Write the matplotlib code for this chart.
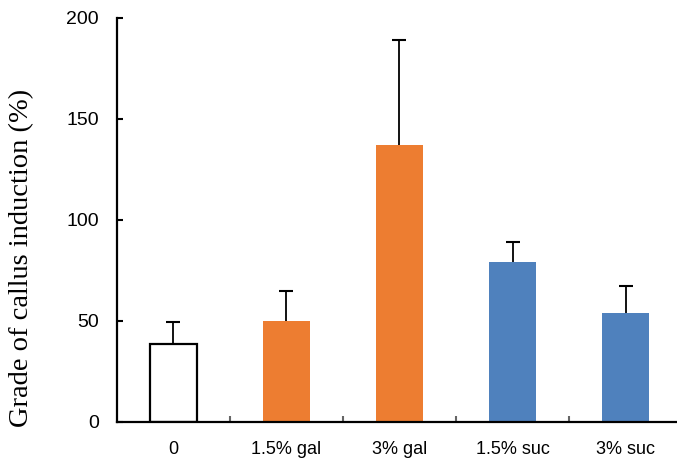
import matplotlib
matplotlib.use("Agg")
import matplotlib.pyplot as plt

categories = ["0", "1.5% gal", "3% gal", "1.5% suc", "3% suc"]
values = [38.5, 50, 137, 79, 54]
errors = [11, 15, 52, 10, 13]
colors = ["white", "#ED7D31", "#ED7D31", "#4F81BD", "#4F81BD"]
edgecolors = ["black", "#ED7D31", "#ED7D31", "#4F81BD", "#4F81BD"]
yticks = [0, 50, 100, 150, 200]

fig = plt.figure(figsize=(6.77, 4.63), dpi=100)
ax = fig.add_axes([0.1728, 0.0886, 0.8346, 0.8736])

x = list(range(len(categories)))
ax.bar(x, values, width=0.41, color=colors, edgecolor=edgecolors,
       linewidth=[1.6, 0, 0, 0, 0], zorder=2)
eb = ax.errorbar(x, values, yerr=[[0] * len(errors), errors], fmt="none",
                 ecolor="black", elinewidth=1.3, capsize=4.8, capthick=1.5, zorder=3)
caplines = eb.lines[1]
if len(caplines) == 2:
    caplines[0].set_visible(False)

ax.set_xlim(-0.5, len(categories) - 0.5)
ax.set_ylim(0, 200)
ax.set_yticks(yticks)
ax.set_yticklabels([str(v) for v in yticks], fontsize=14, family="Liberation Sans")
ax.set_xticks([i + 0.5 for i in range(len(categories) - 1)])
ax.set_xticklabels([])
ax.set_xticks(x, minor=True)
ax.set_xticklabels(categories, minor=True, fontsize=13, family="Liberation Sans")
ax.tick_params(axis="x", which="major", direction="in", length=4, width=1.5, color="#666666")
ax.tick_params(axis="x", which="minor", length=0, pad=13.5)
ax.tick_params(axis="y", direction="in", length=4, width=1.5, pad=13)

for s in ["top", "right"]:
    ax.spines[s].set_visible(False)
for s in ["left", "bottom"]:
    ax.spines[s].set_linewidth(1.6)

fig.text(22 / 677, 1 - 258 / 463, "Grade of callus induction (%)", rotation=90,
         ha="center", va="center", fontsize=20.5, family="Liberation Serif")

fig.savefig("out.png", dpi=100)
